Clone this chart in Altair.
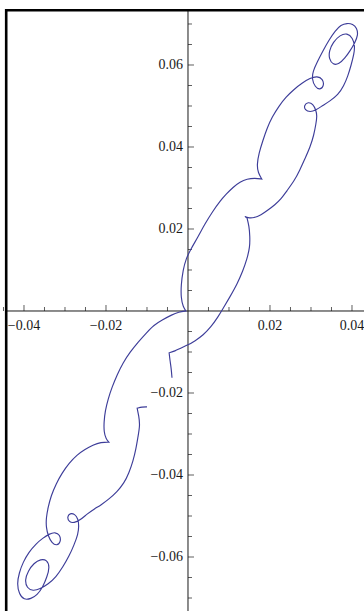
import altair as alt
import pandas as pd

# Trajectory points, in order along the curve (x, y)
path_x = [
    -0.0039, -0.0041, -0.0044, -0.0046, -0.0032, -0.0017, 0.0000, 0.0017, 0.0037, 0.0056,
    0.0073, 0.0085, 0.0102, 0.0120, 0.0134, 0.0144, 0.0151, 0.0151, 0.0149, 0.0144,
    0.0137, 0.0146, 0.0161, 0.0178, 0.0195, 0.0212, 0.0227, 0.0241, 0.0259, 0.0273,
    0.0285, 0.0298, 0.0307, 0.0312, 0.0315, 0.0312, 0.0305, 0.0293, 0.0283, 0.0285,
    0.0298, 0.0312, 0.0327, 0.0346, 0.0366, 0.0380, 0.0390, 0.0398, 0.0405, 0.0407,
    0.0402, 0.0388, 0.0371, 0.0354, 0.0344, 0.0344, 0.0354, 0.0368, 0.0383, 0.0395,
    0.0407, 0.0415, 0.0412, 0.0402, 0.0388, 0.0373, 0.0359, 0.0344, 0.0329, 0.0315,
    0.0305, 0.0302, 0.0310, 0.0322, 0.0332, 0.0329, 0.0315, 0.0298, 0.0278, 0.0259,
    0.0239, 0.0222, 0.0205, 0.0193, 0.0183, 0.0173, 0.0168, 0.0171, 0.0180, 0.0163,
    0.0144, 0.0127, 0.0110, 0.0093, 0.0078, 0.0061, 0.0041, 0.0024, 0.0007, -0.0005,
    -0.0012, -0.0017, -0.0017, -0.0012, -0.0005, -0.0022, -0.0041, -0.0063, -0.0083, -0.0102,
    -0.0122, -0.0141, -0.0159, -0.0173, -0.0185, -0.0195, -0.0202, -0.0205, -0.0205, -0.0200,
    -0.0193, -0.0212, -0.0232, -0.0251, -0.0271, -0.0290, -0.0307, -0.0322, -0.0334, -0.0341,
    -0.0346, -0.0346, -0.0341, -0.0332, -0.0320, -0.0310, -0.0312, -0.0324, -0.0339, -0.0354,
    -0.0371, -0.0388, -0.0402, -0.0412, -0.0417, -0.0412, -0.0400, -0.0383, -0.0368, -0.0354,
    -0.0344, -0.0337, -0.0344, -0.0359, -0.0376, -0.0390, -0.0398, -0.0393, -0.0378, -0.0361,
    -0.0341, -0.0322, -0.0305, -0.0290, -0.0278, -0.0268, -0.0266, -0.0268, -0.0276, -0.0288,
    -0.0295, -0.0290, -0.0278, -0.0263, -0.0246, -0.0229, -0.0212, -0.0193, -0.0173, -0.0156,
    -0.0144, -0.0134, -0.0127, -0.0122, -0.0117, -0.0120, -0.0124, -0.0112, -0.0100,
]
path_y = [
    -0.0163, -0.0139, -0.0120, -0.0102, -0.0098, -0.0090, -0.0083, -0.0073, -0.0059, -0.0039,
    -0.0015, 0.0005, 0.0034, 0.0066, 0.0098, 0.0127, 0.0156, 0.0183, 0.0207, 0.0227,
    0.0232, 0.0227, 0.0227, 0.0234, 0.0246, 0.0259, 0.0273, 0.0293, 0.0317, 0.0344,
    0.0371, 0.0400, 0.0429, 0.0456, 0.0476, 0.0490, 0.0505, 0.0510, 0.0502, 0.0490,
    0.0485, 0.0490, 0.0500, 0.0512, 0.0527, 0.0549, 0.0573, 0.0600, 0.0627, 0.0646,
    0.0666, 0.0678, 0.0673, 0.0656, 0.0634, 0.0615, 0.0600, 0.0602, 0.0617, 0.0634,
    0.0654, 0.0673, 0.0690, 0.0700, 0.0702, 0.0698, 0.0683, 0.0661, 0.0634, 0.0607,
    0.0585, 0.0566, 0.0546, 0.0539, 0.0549, 0.0566, 0.0573, 0.0568, 0.0556, 0.0541,
    0.0522, 0.0500, 0.0473, 0.0446, 0.0417, 0.0385, 0.0356, 0.0337, 0.0322, 0.0324,
    0.0322, 0.0315, 0.0302, 0.0285, 0.0268, 0.0244, 0.0212, 0.0180, 0.0151, 0.0127,
    0.0100, 0.0063, 0.0032, 0.0010, 0.0000, -0.0002, -0.0010, -0.0022, -0.0034, -0.0054,
    -0.0076, -0.0100, -0.0127, -0.0156, -0.0185, -0.0215, -0.0244, -0.0271, -0.0295, -0.0312,
    -0.0320, -0.0320, -0.0327, -0.0337, -0.0351, -0.0371, -0.0395, -0.0422, -0.0451, -0.0478,
    -0.0505, -0.0527, -0.0549, -0.0566, -0.0573, -0.0563, -0.0546, -0.0539, -0.0544, -0.0554,
    -0.0568, -0.0588, -0.0612, -0.0639, -0.0666, -0.0690, -0.0705, -0.0702, -0.0693, -0.0673,
    -0.0649, -0.0624, -0.0607, -0.0605, -0.0615, -0.0634, -0.0656, -0.0676, -0.0683, -0.0678,
    -0.0666, -0.0649, -0.0624, -0.0598, -0.0571, -0.0544, -0.0524, -0.0507, -0.0495, -0.0493,
    -0.0502, -0.0515, -0.0517, -0.0510, -0.0495, -0.0483, -0.0473, -0.0459, -0.0441, -0.0420,
    -0.0395, -0.0366, -0.0337, -0.0307, -0.0278, -0.0256, -0.0237, -0.0234, -0.0234,
]
# Positions along the path where the trajectory has a sharp cusp
cusp_points = [3, 19, 88, 104, 120, 186]

# Axis ticks and labels
x_major = [-0.04, -0.02, 0.02, 0.04]
x_major_labels = ["\u22120.04", "\u22120.02", "0.02", "0.04"]
x_minor = [-0.045, -0.035, -0.03, -0.025, -0.015, -0.01, -0.005,
           0.005, 0.01, 0.015, 0.025, 0.03, 0.035]
y_major = [-0.06, -0.04, -0.02, 0.02, 0.04, 0.06]
y_major_labels = ["\u22120.06", "\u22120.04", "\u22120.02", "0.02", "0.04", "0.06"]
y_minor = [-0.07, -0.065, -0.055, -0.05, -0.045, -0.035, -0.03, -0.025,
           -0.015, -0.01, -0.005, 0.005, 0.01, 0.015, 0.025, 0.03, 0.035,
           0.045, 0.05, 0.055, 0.065, 0.07]

W, H = 364, 611
xs = alt.Scale(domain=[-0.04585, 0.04293], nice=False, zero=False)
ys = alt.Scale(domain=[-0.07317, 0.07585], nice=False, zero=False)
FONT = "Liberation Serif"
INK = "#1a1a1a"

# B-spline through the points; cusp points are repeated so the spline
# passes through them with a sharp corner
rows = []
for i, (px, py) in enumerate(zip(path_x, path_y)):
    reps = 3 if i in cusp_points else 1
    for _ in range(reps):
        rows.append({"i": len(rows), "x": px, "y": py})
path_df = pd.DataFrame(rows)

curve = alt.Chart(path_df).mark_line(
    color="#3d3d99", strokeWidth=1.15, interpolate="basis"
).encode(
    x=alt.X("x:Q", scale=xs, axis=None),
    y=alt.Y("y:Q", scale=ys, axis=None),
    order=alt.Order("i:Q"),
)

x_axis_line = alt.Chart(pd.DataFrame({"v": [0.0]})).mark_rule(color=INK, strokeWidth=1).encode(
    y=alt.Y("v:Q", scale=ys, axis=None), x=alt.value(6), x2=alt.value(W)
)
y_axis_line = alt.Chart(pd.DataFrame({"v": [0.0]})).mark_rule(color=INK, strokeWidth=1).encode(
    x=alt.X("v:Q", scale=xs, axis=None), y=alt.value(10), y2=alt.value(H)
)

xt_major = alt.Chart(pd.DataFrame({"t": x_major, "z": 0.0})).mark_tick(
    orient="vertical", size=6, thickness=1, color=INK, yOffset=-3
).encode(x=alt.X("t:Q", scale=xs, axis=None), y=alt.Y("z:Q", scale=ys, axis=None))
xt_minor = alt.Chart(pd.DataFrame({"t": x_minor, "z": 0.0})).mark_tick(
    orient="vertical", size=4, thickness=1, color=INK, yOffset=-2
).encode(x=alt.X("t:Q", scale=xs, axis=None), y=alt.Y("z:Q", scale=ys, axis=None))
yt_major = alt.Chart(pd.DataFrame({"t": y_major, "z": 0.0})).mark_tick(
    orient="horizontal", size=6, thickness=1, color=INK, xOffset=3
).encode(y=alt.Y("t:Q", scale=ys, axis=None), x=alt.X("z:Q", scale=xs, axis=None))
yt_minor = alt.Chart(pd.DataFrame({"t": y_minor, "z": 0.0})).mark_tick(
    orient="horizontal", size=4, thickness=1, color=INK, xOffset=2
).encode(y=alt.Y("t:Q", scale=ys, axis=None), x=alt.X("z:Q", scale=xs, axis=None))

x_labels = alt.Chart(pd.DataFrame({"t": x_major, "lab": x_major_labels, "z": 0.0})).mark_text(
    font=FONT, fontSize=14, color=INK, align="center", baseline="middle", dy=15
).encode(x=alt.X("t:Q", scale=xs, axis=None), y=alt.Y("z:Q", scale=ys, axis=None), text="lab:N")
y_labels = alt.Chart(pd.DataFrame({"t": y_major, "lab": y_major_labels, "z": 0.0})).mark_text(
    font=FONT, fontSize=14, color=INK, align="right", baseline="middle", dx=-5
).encode(y=alt.Y("t:Q", scale=ys, axis=None), x=alt.X("z:Q", scale=xs, axis=None), text="lab:N")

# Page frame: heavy rules along the top and left edges
frame_left = alt.Chart(pd.DataFrame({"a": [0]})).mark_rule(color="black", strokeWidth=2.6).encode(
    x=alt.value(6.2), y=alt.value(9), y2=alt.value(H)
)
frame_top = alt.Chart(pd.DataFrame({"a": [0]})).mark_rule(color="black", strokeWidth=2.6).encode(
    y=alt.value(10.2), x=alt.value(5), x2=alt.value(W)
)

chart = alt.layer(
    x_axis_line, y_axis_line, xt_major, xt_minor, yt_major, yt_minor,
    x_labels, y_labels, curve, frame_left, frame_top,
).properties(
    width=W, height=H, padding=0, autosize=alt.AutoSizeParams(type="none"), background="white"
).configure_view(stroke=None)

chart.save("out.html", embed_options={"renderer": "svg", "actions": False})
